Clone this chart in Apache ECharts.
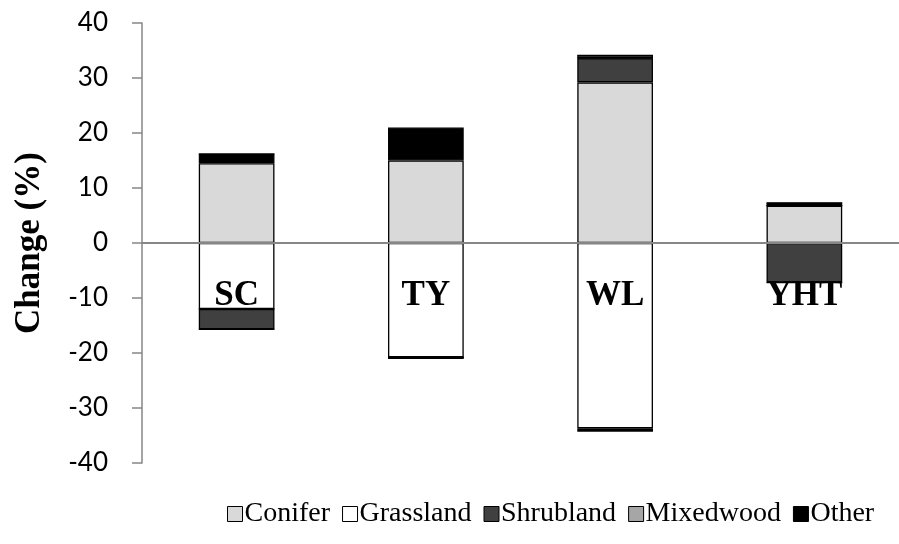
<!DOCTYPE html>
<html>
<head>
<meta charset="utf-8">
<script src="https://cdn.jsdelivr.net/npm/echarts@6/dist/echarts.min.js"></script>
<style>html,body{margin:0;padding:0;background:#fff}#c{width:899px;height:544px}</style>
</head>
<body>
<div id="c"></div>
<script>
const categories = ['SC', 'TY', 'WL', 'YHT'];
const yTicks = [-40, -30, -20, -10, 0, 10, 20, 30, 40];
const seriesNames = ['Conifer', 'Grassland', 'Shrubland', 'Mixedwood', 'Other'];
const coniferPos = [14.5, 15.0, 29.2, 6.8];
const grasslandNeg = [-12.0, -20.8, -33.7, 0];
const shrublandPos = [0, 0, 4.4, 0];
const shrublandNeg = [-3.7, 0, 0, -7.2];
const mixedwoodPos = [0, 0, 0.5, 0];
const otherPos = [1.7, 6.0, 0, 0.5];
const otherNeg = [0, -0.3, -0.6, 0];

const colors = {Conifer:'#d9d9d9', Grassland:'#ffffff', Shrubland:'#404040', Mixedwood:'#a6a6a6', Other:'#000000'};

function bar(name, data) {
  return {
    name: name, type: 'bar', stack: 'total', data: data, barWidth: '40%',
    itemStyle: {color: colors[name], borderColor: '#000', borderWidth: 1.3},
    emphasis: {disabled: true}
  };
}

const chart = echarts.init(document.getElementById('c'));
chart.setOption({
  animation: false,
  grid: {left: 142, right: 0, top: 23, bottom: 81, containLabel: false},
  legend: {
    data: seriesNames.map(n => ({name: n, icon: 'rect', itemStyle: {color: colors[n], borderColor: '#000', borderWidth: 1}})),
    bottom: 11, left: 222, itemWidth: 15, itemHeight: 15, itemGap: 12,
    textStyle: {fontFamily: 'Liberation Serif', fontSize: 28, color: '#000', padding: [0, 0, 0, -3]}
  },
  xAxis: {
    type: 'category', data: categories, z: 10,
    axisLine: {onZero: true, lineStyle: {color: '#868686', width: 2}},
    axisTick: {show: false},
    axisLabel: {margin: -185, fontFamily: 'Liberation Serif', fontWeight: 'bold', fontSize: 35, color: '#000'}
  },
  yAxis: {
    type: 'value', min: yTicks[0], max: yTicks[yTicks.length - 1], interval: 10,
    name: 'Change (%)', nameLocation: 'middle', nameGap: 95,
    nameTextStyle: {fontFamily: 'Liberation Serif', fontWeight: 'bold', fontSize: 35, color: '#000'},
    axisLine: {show: true, lineStyle: {color: '#868686', width: 1.5}},
    axisTick: {show: true, length: 10, inside: false, lineStyle: {color: '#868686', width: 1.5}},
    splitLine: {show: false},
    axisLabel: {margin: 34, fontFamily: 'Lato', fontSize: 26, color: '#000'}
  },
  series: [
    bar('Conifer', coniferPos),
    bar('Grassland', grasslandNeg),
    bar('Shrubland', shrublandPos),
    bar('Shrubland', shrublandNeg),
    bar('Mixedwood', mixedwoodPos),
    bar('Other', otherPos),
    bar('Other', otherNeg)
  ]
});
</script>
</body>
</html>
